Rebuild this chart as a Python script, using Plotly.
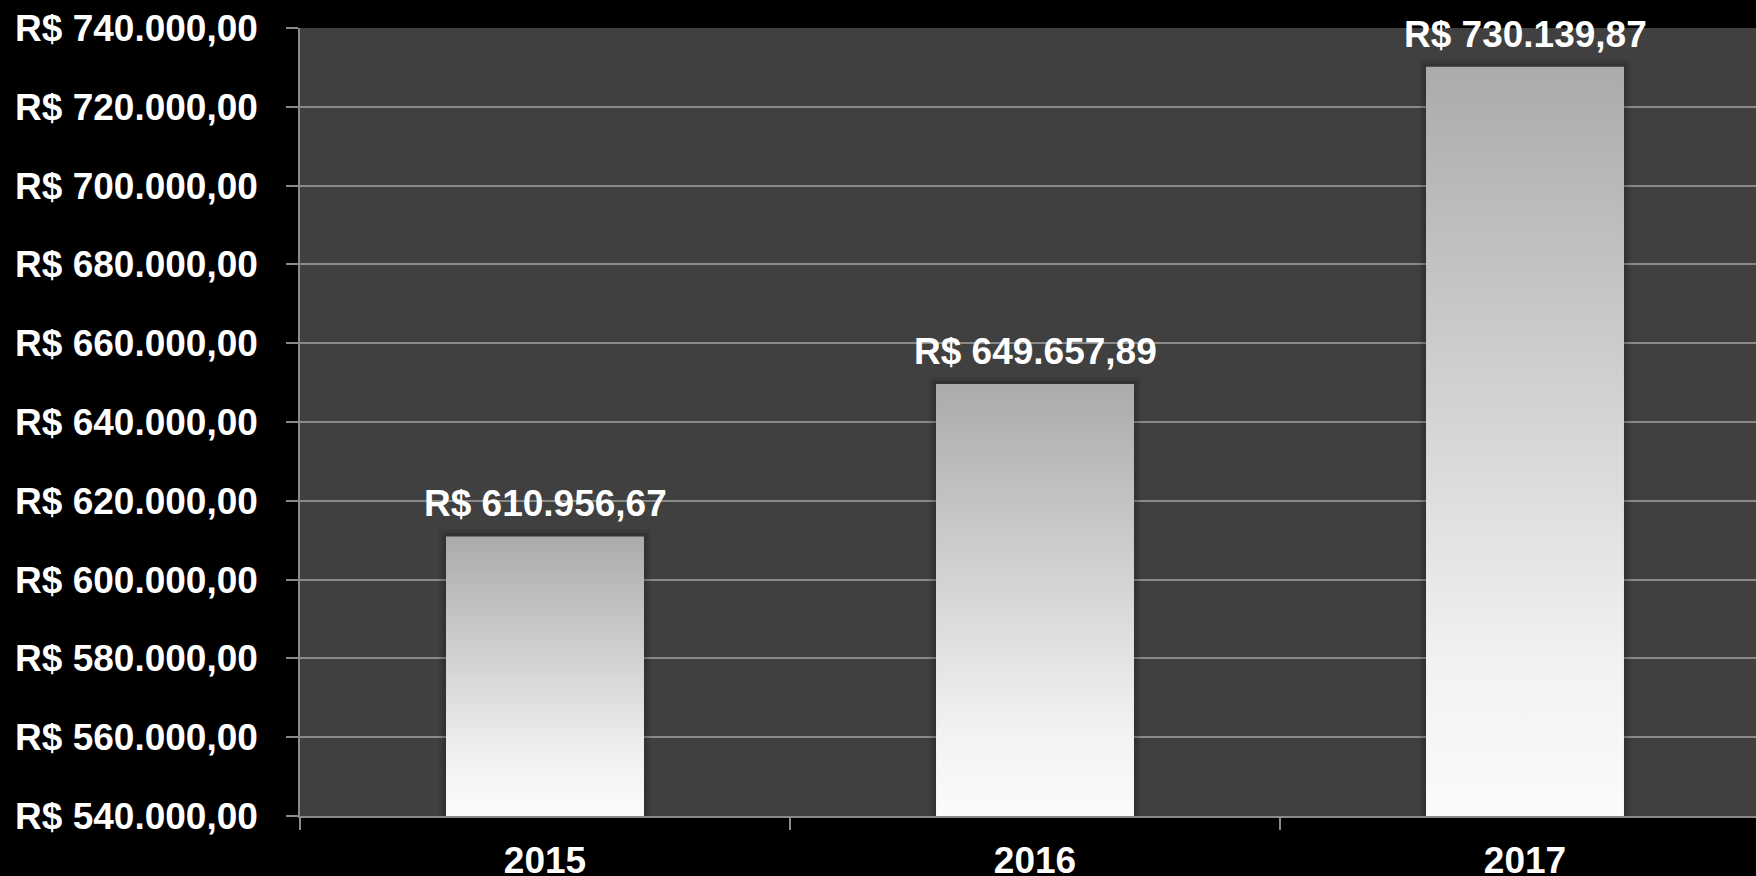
import plotly.graph_objects as go

years = ["2015", "2016", "2017"]
values = [610956.67, 649657.89, 730139.87]
y_ticks = [540000, 560000, 580000, 600000, 620000, 640000, 660000, 680000, 700000, 720000, 740000]


def brl(v):
    s = f"{v:,.2f}".replace(",", "X").replace(".", ",").replace("X", ".")
    return "R$ " + s


Y_MIN, Y_MAX = y_ticks[0], y_ticks[-1]
HALF = 0.202
GRID = "#8a8a8a"
FONT = dict(family="Liberation Sans, Arial, sans-serif", size=37, color="white", weight="bold")

fig = go.Figure()
# soft shadow behind bars (two layered strokes for a blur-like falloff)
for width, alpha in [(14, 0.08), (7, 0.12)]:
    for i, v in enumerate(values):
        fig.add_trace(go.Scatter(
            x=[i - HALF, i - HALF, i + HALF, i + HALF],
            y=[Y_MIN, v, v, Y_MIN],
            mode="lines", line=dict(width=width, color=f"rgba(0,0,0,{alpha})"),
            hoverinfo="skip", showlegend=False,
        ))
for i, v in enumerate(values):
    fig.add_trace(go.Scatter(
        x=[i - HALF, i + HALF, i + HALF, i - HALF, i - HALF],
        y=[Y_MIN, Y_MIN, v, v, Y_MIN],
        mode="lines", line=dict(width=0, color="rgba(0,0,0,0)"),
        fill="toself",
        fillgradient=dict(type="vertical",
                          colorscale=[[0, "#fbfbfb"], [0.2, "#f2f2f2"], [1, "#ababab"]]),
        hoverinfo="skip", showlegend=False,
    ))

for i, v in enumerate(values):
    fig.add_annotation(
        x=i, y=v, text=brl(v), showarrow=False,
        xanchor="center", yanchor="bottom", yshift=10,
        font=FONT,
    )

fig.update_layout(
    width=1756, height=876,
    paper_bgcolor="black", plot_bgcolor="#404040",
    margin=dict(l=300, r=0, t=28, b=60),
    font=FONT,
    xaxis=dict(
        range=[-0.5, -0.5 + 1456 / 490], automargin=False,
        tickmode="array", tickvals=list(range(len(years))), ticktext=years,
        ticks="", showgrid=False, zeroline=False,
        showline=True, linecolor=GRID, linewidth=1.5,
        tickfont=FONT, ticklabelstandoff=11,
        minor=dict(tickmode="array", tickvals=[-0.5, 0.5, 1.5, 2.5],
                   ticks="outside", ticklen=12, tickcolor=GRID, tickwidth=1.5, showgrid=False),
    ),
    yaxis=dict(
        range=[Y_MIN, Y_MAX], automargin=False,
        tickmode="array", tickvals=y_ticks, ticktext=[brl(v) for v in y_ticks],
        showgrid=True, gridcolor=GRID, gridwidth=1.5,
        zeroline=False, showline=True, linecolor=GRID, linewidth=1.5,
        ticks="outside", ticklen=12, tickcolor=GRID, tickwidth=1.5,
        tickfont=FONT, ticklabelstandoff=21,
    ),
)

fig.write_html(
    "out.html",
    config={"displayModeBar": False},
    post_script="document.body.style.margin='0';document.body.style.background='black';",
)
